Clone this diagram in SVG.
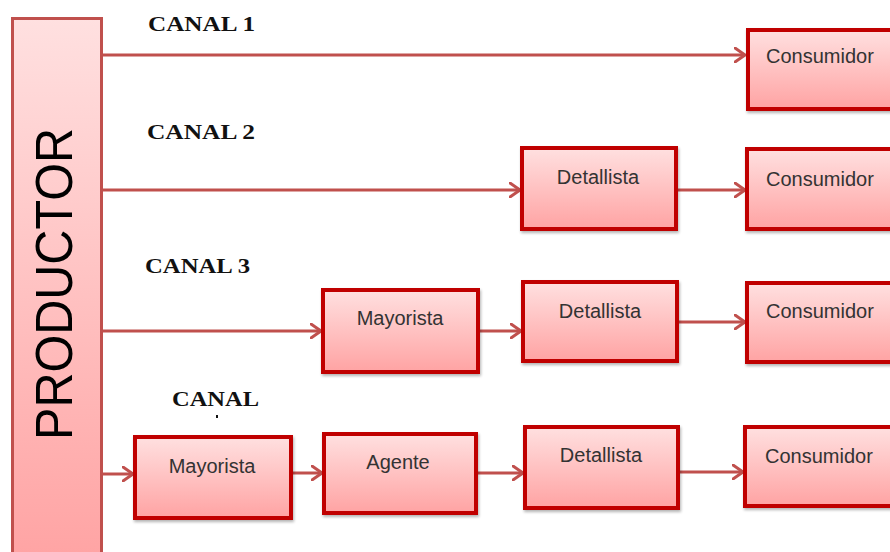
<svg xmlns="http://www.w3.org/2000/svg" width="890" height="552" viewBox="0 0 890 552">
<defs>
<linearGradient id="gb" x1="0" y1="0" x2="0" y2="1">
<stop offset="0" stop-color="#ffe0e0"/>
<stop offset="1" stop-color="#ffa3a3"/>
</linearGradient>
<linearGradient id="gp" x1="0" y1="0" x2="0" y2="1">
<stop offset="0" stop-color="#ffe0e0"/>
<stop offset="1" stop-color="#ffa3a3"/>
</linearGradient>
<filter id="sh" x="-10%" y="-10%" width="130%" height="130%">
<feGaussianBlur in="SourceAlpha" stdDeviation="1.5"/>
<feOffset dx="1" dy="2" result="b"/>
<feComponentTransfer><feFuncA type="linear" slope="0.3"/></feComponentTransfer>
<feMerge><feMergeNode/><feMergeNode in="SourceGraphic"/></feMerge>
</filter>
<marker id="ah" markerWidth="14" markerHeight="16" refX="11" refY="8" orient="auto" markerUnits="userSpaceOnUse">
<path d="M1,1 L11,8 L1,15" fill="none" stroke="#c0504d" stroke-width="3" stroke-linejoin="round" stroke-linecap="round"/>
</marker>
<style>
.box{fill:url(#gb);stroke:#c00000;stroke-width:4;filter:url(#sh)}
.t{font-family:"Liberation Sans",Arial,sans-serif;font-size:20px;fill:#333}
.c{font-family:"Liberation Serif","Times New Roman",serif;font-weight:bold;font-size:21px;fill:#111}
.ln{stroke:#c0504d;stroke-width:3;fill:none;marker-end:url(#ah)}
</style>
</defs>
<rect width="890" height="552" fill="#fff"/>

<g id="productor">
<rect x="12.5" y="18.5" width="89" height="545" fill="url(#gp)" stroke="#c0504d" stroke-width="3"/>
<text transform="translate(72,284) rotate(-90)" text-anchor="middle" font-family="Liberation Sans,Arial,sans-serif" font-size="52" fill="#000" textLength="312" lengthAdjust="spacingAndGlyphs">PRODUCTOR</text>
</g>

<g id="labels">
<text class="c" x="148" y="31" textLength="107" lengthAdjust="spacingAndGlyphs">CANAL 1</text>
<text class="c" x="147" y="139" textLength="108" lengthAdjust="spacingAndGlyphs">CANAL 2</text>
<text class="c" x="145" y="273" textLength="105" lengthAdjust="spacingAndGlyphs">CANAL 3</text>
<text class="c" x="172" y="406" textLength="87" lengthAdjust="spacingAndGlyphs">CANAL</text>
<rect x="216" y="415" width="2" height="3" fill="#111"/>
</g>

<g id="connectors">
<line class="ln" x1="103" y1="55" x2="745" y2="55"/>
<line class="ln" x1="103" y1="190" x2="520" y2="190"/>
<line class="ln" x1="678" y1="190" x2="745" y2="190"/>
<line class="ln" x1="103" y1="331" x2="321" y2="331"/>
<line class="ln" x1="480" y1="331" x2="521" y2="331"/>
<line class="ln" x1="679" y1="322" x2="745" y2="322"/>
<line class="ln" x1="103" y1="474" x2="133" y2="474"/>
<line class="ln" x1="293" y1="473" x2="322" y2="473"/>
<line class="ln" x1="478" y1="473" x2="523" y2="473"/>
<line class="ln" x1="680" y1="472" x2="743" y2="472"/>
</g>

<g id="consumidor1">
<rect class="box" x="748" y="30" width="160" height="79"/>
<text class="t" x="766" y="63">Consumidor</text>
</g>

<g id="detallista2">
<rect class="box" x="522" y="148" width="154" height="81"/>
<text class="t" x="598" y="184" text-anchor="middle">Detallista</text>
</g>
<g id="consumidor2">
<rect class="box" x="747" y="149" width="160" height="80"/>
<text class="t" x="766" y="186">Consumidor</text>
</g>

<g id="mayorista3">
<rect class="box" x="323" y="290" width="155" height="82"/>
<text class="t" x="400" y="325" text-anchor="middle">Mayorista</text>
</g>
<g id="detallista3">
<rect class="box" x="523" y="282" width="154" height="79"/>
<text class="t" x="600" y="318" text-anchor="middle">Detallista</text>
</g>
<g id="consumidor3">
<rect class="box" x="747" y="283" width="160" height="79"/>
<text class="t" x="766" y="318">Consumidor</text>
</g>

<g id="mayorista4">
<rect class="box" x="135" y="437" width="156" height="81"/>
<text class="t" x="212" y="473" text-anchor="middle">Mayorista</text>
</g>
<g id="agente4">
<rect class="box" x="324" y="434" width="152" height="79"/>
<text class="t" x="398" y="469" text-anchor="middle">Agente</text>
</g>
<g id="detallista4">
<rect class="box" x="525" y="427" width="153" height="81"/>
<text class="t" x="601" y="462" text-anchor="middle">Detallista</text>
</g>
<g id="consumidor4">
<rect class="box" x="745" y="427" width="160" height="79"/>
<text class="t" x="765" y="463">Consumidor</text>
</g>
</svg>
